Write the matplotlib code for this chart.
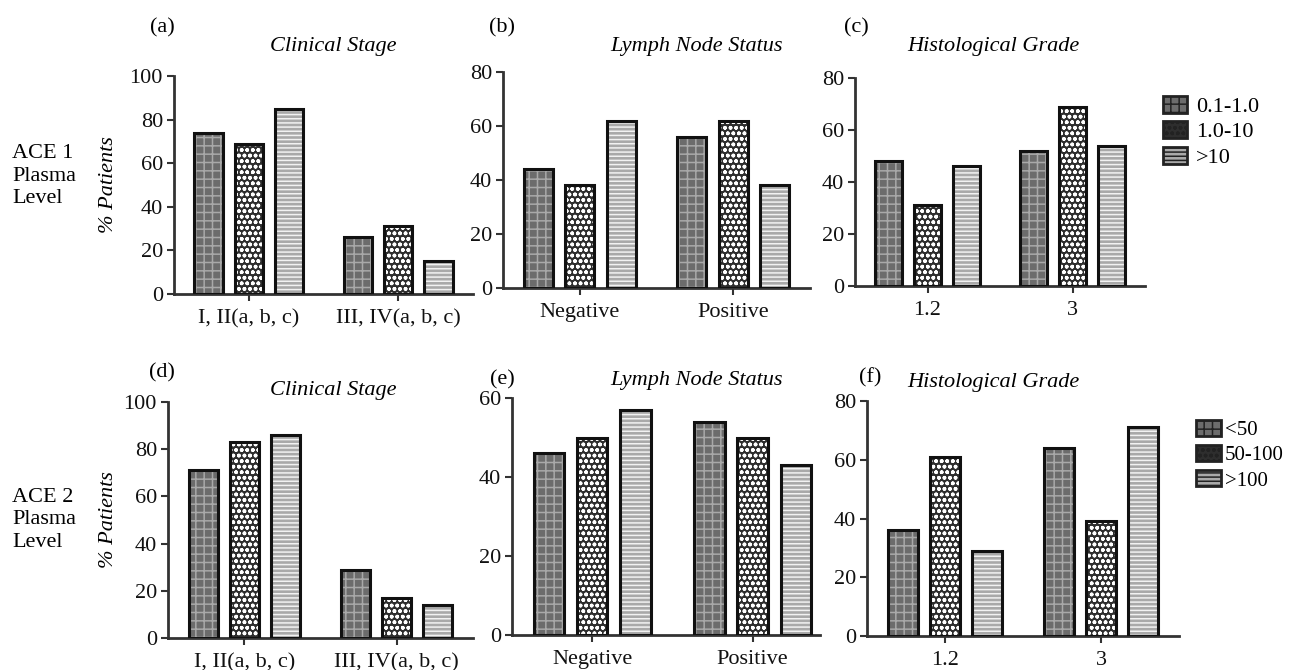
import matplotlib
matplotlib.use("Agg")
import matplotlib.pyplot as plt
import matplotlib.patches as mpatches
import numpy as np

plt.rcParams['font.family'] = ['Liberation Serif', 'DejaVu Serif']
plt.rcParams['hatch.linewidth'] = 1.1

W, H = 1292, 670
FS = 16

# data (% patients)
stage_cats = ["I, II(a, b, c)", "III, IV(a, b, c)"]
node_cats = ["Negative", "Positive"]
grade_cats = ["1.2", "3"]

ace1_labels = ["0.1-1.0", "1.0-10", ">10"]
ace2_labels = ["<50", "50-100", ">100"]

# values per series, one entry per category
ace1_stage = [[74, 26], [69, 31], [85, 15]]
ace1_node = [[44, 56], [38, 62], [62, 38]]
ace1_grade = [[48, 52], [31, 69], [46, 54]]
ace2_stage = [[71, 29], [83, 17], [86, 14]]
ace2_node = [[46, 54], [50, 50], [57, 43]]
ace2_grade = [[36, 64], [61, 39], [29, 71]]

# (facecolor, hatch, hatch colour) for the three series
styles = [("#6c6c6c", "++", "#a9a9a9"),
          ("#2e2e2e", "ooo", "#ffffff"),
          ("#a9a9a9", "----", "#f2f2f2")]


def px_axes(x0, x1, y_top, y_bot):
    return fig.add_axes([x0 / W, 1 - y_bot / H, (x1 - x0) / W, (y_bot - y_top) / H])


def draw_panel(ax, cats, vals, ymax, ystep, xmax=1.5):
    x = np.arange(len(cats))
    offs = [-0.27, 0.0, 0.27]
    for i, v in enumerate(vals):
        fc, hatch, hc = styles[i]
        ax.bar(x + offs[i], v, 0.19, color=fc, hatch=hatch, edgecolor=hc, linewidth=0, zorder=2)
        ax.bar(x + offs[i], v, 0.19, fill=False, edgecolor="#111111", linewidth=2.2, zorder=3)
    ax.set_xlim(-0.5, xmax)
    ax.set_ylim(0, ymax)
    ax.set_yticks(np.arange(0, ymax + 1, ystep))
    ax.set_xticks(x)
    ax.set_xticklabels(cats)
    for s in ["top", "right"]:
        ax.spines[s].set_visible(False)
    for s in ["left", "bottom"]:
        ax.spines[s].set_linewidth(2)
        ax.spines[s].set_color("#333333")
    ax.tick_params(axis="both", labelsize=FS, width=1.5, colors="#333333", labelcolor="#111111")
    ax.tick_params(axis="x", length=5, pad=6)
    ax.tick_params(axis="y", length=5, pad=3)


def ftext(xp, yp, s, **kw):
    fig.text(xp / W, 1 - yp / H, s, fontsize=FS, **kw)


fig = plt.figure(figsize=(W / 100, H / 100), dpi=100)

ax_a = px_axes(174, 473, 76, 294)
ax_b = px_axes(503, 810, 72, 288)
ax_c = px_axes(855, 1145, 78, 286)
ax_d = px_axes(168, 473, 402, 638)
ax_e = px_axes(512, 820, 398, 635)
ax_f = px_axes(867, 1179, 401, 636)

draw_panel(ax_a, stage_cats, ace1_stage, 100, 20)
draw_panel(ax_b, node_cats, ace1_node, 80, 20)
draw_panel(ax_c, grade_cats, ace1_grade, 80, 20)
draw_panel(ax_d, stage_cats, ace2_stage, 100, 20)
draw_panel(ax_e, node_cats, ace2_node, 60, 20, xmax=1.42)
draw_panel(ax_f, grade_cats, ace2_grade, 80, 20)

for ax, x0, x1 in [(ax_a, 174, 473), (ax_d, 168, 473)]:
    ax.set_ylabel("% Patients", fontsize=FS, style="italic")
    ax.yaxis.set_label_coords((118 - x0) / (x1 - x0), 0.5)

# panel letters and titles
ftext(162, 28, "(a)", ha="center", va="center")
ftext(502, 28, "(b)", ha="center", va="center")
ftext(856, 28, "(c)", ha="center", va="center")
ftext(162, 373, "(d)", ha="center", va="center")
ftext(502, 380, "(e)", ha="center", va="center")
ftext(870, 378, "(f)", ha="center", va="center")

ftext(333, 47, "Clinical Stage", style="italic", ha="center", va="center")
ftext(697, 47, "Lymph Node Status", style="italic", ha="center", va="center")
ftext(993, 47, "Histological Grade", style="italic", ha="center", va="center")
ftext(333, 391, "Clinical Stage", style="italic", ha="center", va="center")
ftext(697, 380, "Lymph Node Status", style="italic", ha="center", va="center")
ftext(993, 383, "Histological Grade", style="italic", ha="center", va="center")

ftext(12, 176, "ACE 1\nPlasma\nLevel", ha="left", va="center", linespacing=1.25)
ftext(12, 520, "ACE 2\nPlasma\nLevel", ha="left", va="center", linespacing=1.25)


# legends
def make_handles():
    hs = []
    for fc, hatch, hc in styles:
        hs.append(mpatches.Patch(facecolor=fc, hatch=hatch, edgecolor="#222222", linewidth=2))
    return hs


fig.legend(make_handles(), ace1_labels, loc="upper left", bbox_to_anchor=(1147 / W, 1 - 80 / H),
           frameon=False, fontsize=FS, handlelength=1.1, handleheight=0.8,
           handletextpad=0.4, labelspacing=0.2, borderpad=0.2)
fig.legend(make_handles(), ace2_labels, loc="upper left", bbox_to_anchor=(1181 / W, 1 - 405 / H),
           frameon=False, fontsize=15, handlelength=1.2, handleheight=0.8,
           handletextpad=0.2, labelspacing=0.25, borderpad=0.2)

fig.savefig("out.png", dpi=100)
